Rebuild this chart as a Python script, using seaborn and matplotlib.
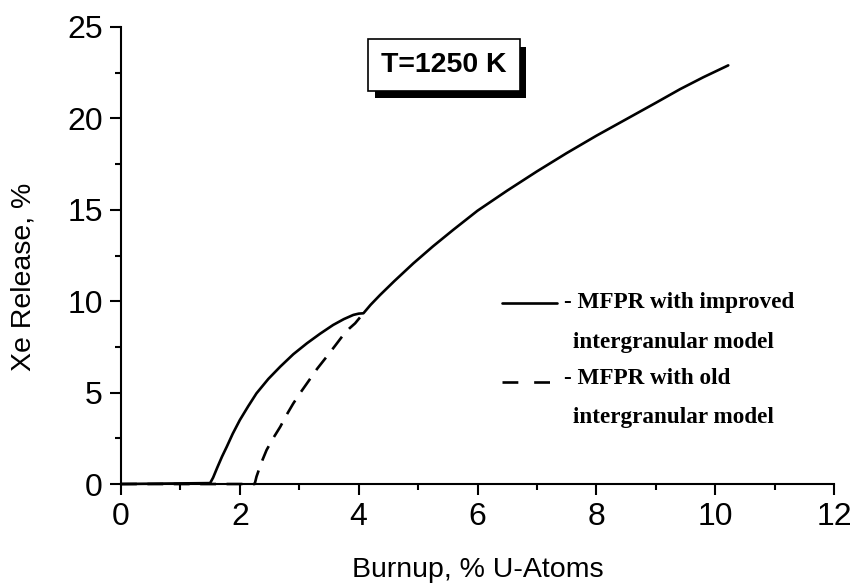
import matplotlib
matplotlib.use("Agg")
import matplotlib.pyplot as plt
import matplotlib.patheffects as pe
from matplotlib.ticker import MultipleLocator
import seaborn as sns
import pandas as pd

# Xe release vs burnup at T = 1250 K
shared_x = [4.08, 4.2, 4.36, 4.6, 4.92, 5.25, 5.59, 6.0, 6.5, 7.0, 7.5, 8.0,
            8.5, 9.0, 9.41, 9.8, 10.22]
shared_y = [9.34, 9.8, 10.34, 11.1, 12.07, 13.0, 13.9, 14.95, 16.05, 17.1,
            18.1, 19.05, 19.95, 20.85, 21.6, 22.25, 22.9]

improved_x = [0.0, 1.50, 1.55, 1.62, 1.70, 1.78, 1.88, 2.0, 2.14, 2.28, 2.48,
              2.68, 2.90, 3.13, 3.35, 3.57, 3.75, 3.91, 4.0]
improved_y = [0.0, 0.05, 0.35, 0.9, 1.5, 2.04, 2.75, 3.5, 4.25, 4.96, 5.75,
              6.42, 7.1, 7.7, 8.22, 8.7, 9.02, 9.25, 9.32]

old_x = [0.0, 2.25, 2.28, 2.36, 2.45, 2.56, 2.68, 2.79, 2.90, 3.02, 3.15,
         3.30, 3.46, 3.60, 3.74, 3.84, 3.94]
old_y = [0.0, 0.0, 0.4, 1.15, 1.86, 2.5, 3.13, 3.8, 4.41, 5.0, 5.6,
         6.3, 6.96, 7.55, 8.15, 8.5, 8.79]

x_ticks = [0, 2, 4, 6, 8, 10, 12]
y_ticks = [0, 5, 10, 15, 20, 25]

improved = pd.DataFrame({"burnup": improved_x + shared_x,
                         "release": improved_y + shared_y})
old = pd.DataFrame({"burnup": old_x + shared_x[:1],
                    "release": old_y + shared_y[:1]})

sns.set_theme(style="ticks")
plt.rcParams["font.family"] = ["Liberation Sans", "DejaVu Sans"]

fig = plt.figure(figsize=(8.54, 5.84), dpi=100)
ax = fig.add_axes([0.1417, 0.1712, 0.8349, 0.7826])

sns.lineplot(data=improved, x="burnup", y="release", ax=ax, color="black",
             lw=1.9, sort=False, estimator=None, clip_on=False)
sns.lineplot(data=old, x="burnup", y="release", ax=ax, color="black",
             lw=1.9, sort=False, estimator=None, clip_on=False,
             linestyle=(0, (6, 4)))

ax.set_xlim(0, 12)
ax.set_ylim(0, 25)
ax.set_xticks(x_ticks)
ax.set_yticks(y_ticks)
ax.xaxis.set_minor_locator(MultipleLocator(1))
ax.yaxis.set_minor_locator(MultipleLocator(2.5))
ax.tick_params(which="major", direction="out", length=8, width=1.5,
               labelsize=23, pad=5, color="black", labelcolor="black")
ax.tick_params(which="minor", direction="out", length=4.3, width=1.5,
               color="black")
for side in ("top", "right"):
    ax.spines[side].set_visible(False)
for side in ("left", "bottom"):
    ax.spines[side].set_linewidth(1.5)
    ax.spines[side].set_color("black")

ax.set_xlabel("Burnup, % U-Atoms", fontsize=20.5, color="black")
ax.set_ylabel("Xe Release, %", fontsize=20.5, color="black")
ax.xaxis.set_label_coords(0.5, -0.16)
ax.yaxis.set_label_coords(-0.118, 0.453)

# Temperature tag with drop shadow
tag = ax.text(0.453, 0.917, "T=1250 K", transform=ax.transAxes,
              ha="center", va="center", fontsize=20.5, fontweight="bold",
              color="black",
              bbox=dict(boxstyle="square,pad=0.45", fc="white", ec="black", lw=1.2))
tag.get_bbox_patch().set_path_effects([
    pe.SimplePatchShadow(offset=(4.5, -5.5), shadow_rgbFace="black", alpha=1.0),
    pe.Normal(),
])

# Key
serif = dict(family=["Liberation Serif", "DejaVu Serif"], fontweight="bold",
             fontsize=16.7, color="black", transform=ax.transAxes, va="baseline")
ax.plot([0.534, 0.611], [0.396, 0.396], transform=ax.transAxes,
        color="black", lw=1.9)
ax.plot([0.534, 0.606], [0.223, 0.223], transform=ax.transAxes,
        color="black", lw=1.9, linestyle=(0, (6, 6)))
ax.text(0.621, 0.385, "- MFPR with improved", **serif)
ax.text(0.634, 0.298, "intergranular model", **serif)
ax.text(0.621, 0.219, "- MFPR with old", **serif)
ax.text(0.634, 0.133, "intergranular model", **serif)

fig.savefig("out.png", dpi=100)
